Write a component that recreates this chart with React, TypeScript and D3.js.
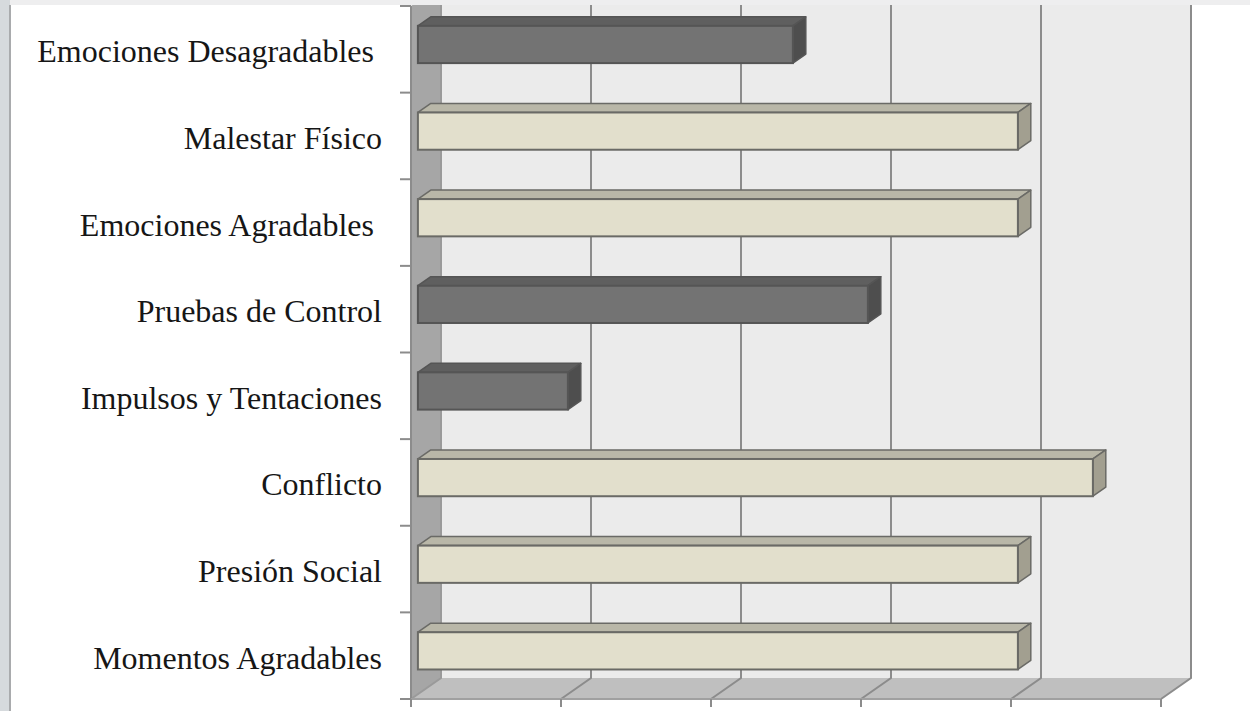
import { useEffect, useRef } from 'react'
import * as d3 from 'd3'

// Categories top to bottom, with the original trailing spaces kept
const categories = [
  'Emociones Desagradables ',
  'Malestar Físico',
  'Emociones Agradables ',
  'Pruebas de Control',
  'Impulsos y Tentaciones',
  'Conflicto',
  'Presión Social',
  'Momentos Agradables',
]
const values = [2.5, 4, 4, 3, 1, 4.5, 4, 4]
const dark = [true, false, false, true, true, false, false, false]
const valueTicks = [0, 1, 2, 3, 4, 5]

const W = 1250
const H = 711

export default function App() {
  const ref = useRef<SVGSVGElement>(null)

  useEffect(() => {
    if (!ref.current) return
    d3.select(ref.current).selectAll('*').remove()

    const svg = d3.select(ref.current).attr('width', W).attr('height', H)

    // depth of the 3D box
    const D = 30
    const Hd = 21
    const shift = (x: number, y: number, d: number): [number, number] => [x + D * d, y - Hd * d]

    const x = d3.scaleLinear().domain([0, 5]).range([411, 1161])
    const y = d3.scaleBand().domain(categories).range([6, 699]).padding(0)
    const bh = y.bandwidth() * 0.43
    const d1 = 0.23
    const d2 = 0.66

    // page background + picture frame
    svg.append('rect').attr('width', W).attr('height', H).attr('fill', '#eeeeef')
    svg.append('rect').attr('width', 10).attr('height', H).attr('fill', '#d6dadd')
    svg.append('rect').attr('x', 9).attr('y', 5).attr('width', 2).attr('height', H).attr('fill', '#a9abad')
    svg.append('rect').attr('x', 11).attr('y', 5).attr('width', W).attr('height', H).attr('fill', '#ffffff')

    svg.append('clipPath').attr('id', 'frame')
      .append('rect').attr('x', 11).attr('y', 5).attr('width', W).attr('height', H)

    const g = svg.append('g').attr('clip-path', 'url(#frame)')

    const [y0, y1] = y.range()
    const line = (pts: [number, number][]) => d3.line()(pts)! + 'Z'

    // back wall
    g.append('path')
      .attr('d', line([shift(x(0), y0, 1), shift(x(5), y0, 1), shift(x(5), y1, 1), shift(x(0), y1, 1)]))
      .attr('fill', '#ebebeb')

    // left wall
    g.append('path')
      .attr('d', line([[x(0), y0], shift(x(0), y0, 1), shift(x(0), y1, 1), [x(0), y1]]))
      .attr('fill', '#a6a6a6')

    // floor
    g.append('path')
      .attr('d', line([[x(0), y1], [x(5), y1], shift(x(5), y1, 1), shift(x(0), y1, 1)]))
      .attr('fill', '#bfbfbf')

    // grid lines on back wall and floor
    valueTicks.forEach((t) => {
      const top = shift(x(t), y0, 1)
      const bot = shift(x(t), y1, 1)
      g.append('path')
        .attr('d', d3.line()([top, bot, [x(t), y1]]))
        .attr('fill', 'none')
        .attr('stroke', t === 0 ? '#9a9a9a' : '#8c8c8c')
        .attr('stroke-width', 2)
    })

    // axes on the front plane
    g.append('line')
      .attr('x1', x(0)).attr('x2', x(0)).attr('y1', y0).attr('y2', y1)
      .attr('stroke', '#8c8c8c').attr('stroke-width', 2)
    g.append('line')
      .attr('x1', x(0)).attr('x2', x(5)).attr('y1', y1).attr('y2', y1)
      .attr('stroke', '#a0a0a0').attr('stroke-width', 2)

    valueTicks.forEach((t) => {
      g.append('line')
        .attr('x1', x(t)).attr('x2', x(t)).attr('y1', y1).attr('y2', y1 + 8)
        .attr('stroke', '#8c8c8c').attr('stroke-width', 2)
    })
    const bounds = categories.map((c) => y(c)!).concat([y1])
    bounds.forEach((b) => {
      g.append('line')
        .attr('x1', x(0) - 11).attr('x2', x(0)).attr('y1', b).attr('y2', b)
        .attr('stroke', '#8c8c8c').attr('stroke-width', 2)
    })

    // bars
    categories.forEach((c, i) => {
      const v = values[i]
      const top = y(c)! + y.bandwidth() / 2 - bh / 2
      const fA = shift(x(0), top, d1)
      const fB = shift(x(v), top, d1)
      const bA = shift(x(0), top, d2)
      const bB = shift(x(v), top, d2)
      const fill = dark[i]
        ? { front: '#737373', top: '#5f5f5f', side: '#4e4e4e', stroke: '#555555' }
        : { front: '#e2dfcc', top: '#b9b7a8', side: '#a29f90', stroke: '#6a6a66' }

      g.append('path')
        .attr('d', line([fA, fB, bB, bA]))
        .attr('fill', fill.top).attr('stroke', fill.stroke).attr('stroke-width', 1.5)
        .attr('stroke-linejoin', 'round')
      g.append('path')
        .attr('d', line([fB, bB, [bB[0], bB[1] + bh], [fB[0], fB[1] + bh]]))
        .attr('fill', fill.side).attr('stroke', fill.stroke).attr('stroke-width', 1.5)
        .attr('stroke-linejoin', 'round')
      g.append('rect')
        .attr('x', fA[0]).attr('y', fA[1])
        .attr('width', fB[0] - fA[0]).attr('height', bh)
        .attr('fill', fill.front).attr('stroke', fill.stroke).attr('stroke-width', 2)
    })

    // category labels
    g.selectAll('.cat')
      .data(categories)
      .join('text')
      .attr('class', 'cat')
      .attr('x', 382)
      .attr('y', (d) => y(d)! + y.bandwidth() / 2 + 13)
      .attr('text-anchor', 'end')
      .attr('font-family', '"Liberation Serif", serif')
      .attr('font-size', 32)
      .attr('fill', '#161616')
      .style('white-space', 'pre')
      .text((d) => d)
  }, [])

  return (
    <div style={{ position: 'fixed', left: 0, top: 0, width: W, height: H, overflow: 'hidden' }}>
      <svg ref={ref} style={{ display: 'block' }} />
    </div>
  )
}
